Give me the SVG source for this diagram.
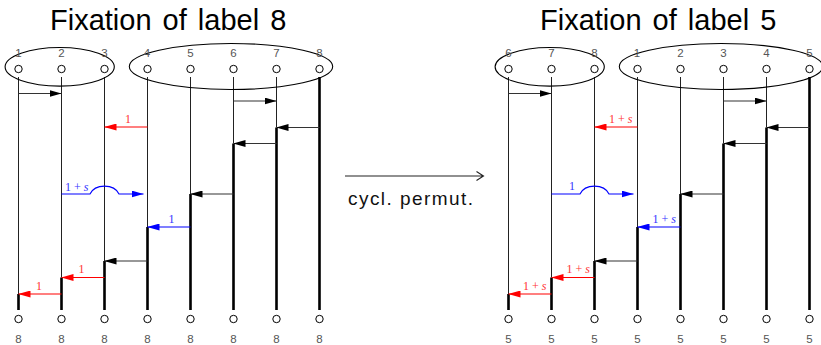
<svg xmlns="http://www.w3.org/2000/svg" width="821" height="345" viewBox="0 0 821 345">
<style>
.title{font-family:"Liberation Sans",Arial,sans-serif;font-size:29px;fill:#000;word-spacing:3px}
.idx{font-family:"Liberation Sans",Arial,sans-serif;font-size:11.5px;fill:#555;text-anchor:middle}
.grp{fill:none;stroke:#000;stroke-width:1.1}
.dot{fill:#fff;stroke:#000;stroke-width:1}
.thin{stroke:#222;stroke-width:1;fill:none}
.thick{stroke:#000;stroke-width:2.6;fill:none}
.ab{stroke:#333;stroke-width:1.1;fill:none;marker-end:url(#hk)}
.ar{stroke:#f00;stroke-width:1.1;fill:none;marker-end:url(#hr)}
.abl{stroke:#00f;stroke-width:1.1;fill:none;marker-end:url(#hb)}
.lr{font-family:"Liberation Serif","Times New Roman",serif;font-size:12px;fill:#f33}
.lb{font-family:"Liberation Serif","Times New Roman",serif;font-size:12px;fill:#33f}
.cap{font-family:"Liberation Sans",Arial,sans-serif;font-size:19px;fill:#111}
</style>
<defs>
<marker id="hk" markerUnits="userSpaceOnUse" viewBox="0 0 12 7" refX="12" refY="3.5" markerWidth="12" markerHeight="7" orient="auto"><path d="M0,0 L12,3.5 L0,7 Z" fill="#000"/></marker>
<marker id="hr" markerUnits="userSpaceOnUse" viewBox="0 0 12 7" refX="12" refY="3.5" markerWidth="12" markerHeight="7" orient="auto"><path d="M0,0 L12,3.5 L0,7 Z" fill="#f00"/></marker>
<marker id="hb" markerUnits="userSpaceOnUse" viewBox="0 0 12 7" refX="12" refY="3.5" markerWidth="12" markerHeight="7" orient="auto"><path d="M0,0 L12,3.5 L0,7 Z" fill="#00f"/></marker>
<g id="strands">
<path class="thin" d="M18.5,77 V294 M61.5,77 V277.5 M104.5,77 V261 M147.5,77 V227 M190.5,77 V194 M233.5,77 V143.5 M276.5,77 V127.5"/>
<path class="thick" d="M18.5,294 V310 M61.5,277.5 V310 M104.5,261 V310 M147.5,227 V310 M190.5,194 V310 M233.5,143.5 V310 M276.5,127.5 V310 M319.5,77 V310"/>
</g>
</defs>

<!-- LEFT PANEL -->
<g id="left-panel">
<text class="title" x="50" y="30">Fixation of label 8</text>
<use href="#strands"/>
<g id="L-group-a"><ellipse class="grp" cx="59.7" cy="66.8" rx="54.6" ry="19.3"/></g>
<g id="L-group-b"><ellipse class="grp" cx="231" cy="66.5" rx="101.7" ry="23"/></g>
<g id="L-top-labels">
<text class="idx" x="18.5" y="56.5">1</text><text class="idx" x="61.5" y="56.5">2</text><text class="idx" x="104.5" y="56.5">3</text><text class="idx" x="147" y="56.5">4</text>
<text class="idx" x="190.5" y="56.5">5</text><text class="idx" x="233.5" y="56.5">6</text><text class="idx" x="276.5" y="56.5">7</text><text class="idx" x="319.5" y="56.5">8</text>
</g>
<g id="L-top-dots">
<circle class="dot" cx="18.5" cy="69" r="3.7"/><circle class="dot" cx="61.5" cy="69" r="3.7"/><circle class="dot" cx="104.5" cy="69" r="3.7"/><circle class="dot" cx="147.5" cy="69" r="3.7"/>
<circle class="dot" cx="190.5" cy="69" r="3.7"/><circle class="dot" cx="233.5" cy="69" r="3.7"/><circle class="dot" cx="276.5" cy="69" r="3.7"/><circle class="dot" cx="319.5" cy="69" r="3.7"/>
</g>
<g id="L-bottom-dots">
<circle class="dot" cx="18.5" cy="319" r="3.7"/><circle class="dot" cx="61.5" cy="319" r="3.7"/><circle class="dot" cx="104.5" cy="319" r="3.7"/><circle class="dot" cx="147.5" cy="319" r="3.7"/>
<circle class="dot" cx="190.5" cy="319" r="3.7"/><circle class="dot" cx="233.5" cy="319" r="3.7"/><circle class="dot" cx="276.5" cy="319" r="3.7"/><circle class="dot" cx="319.5" cy="319" r="3.7"/>
</g>
<g id="L-bottom-labels">
<text class="idx" x="18.5" y="343">8</text><text class="idx" x="61.5" y="343">8</text><text class="idx" x="104.5" y="343">8</text><text class="idx" x="147.5" y="343">8</text>
<text class="idx" x="190.5" y="343">8</text><text class="idx" x="233.5" y="343">8</text><text class="idx" x="276.5" y="343">8</text><text class="idx" x="319.5" y="343">8</text>
</g>
<g id="L-connectors">
<path class="ab" d="M18.5,93.5 H61.5"/>
<path class="ab" d="M233.5,101 H276.5"/>
<path class="ab" d="M319.5,127.5 H276.5"/>
<path class="ar" d="M147.5,127 H104.5"/>
<path class="ab" d="M276.5,143.5 H233.5"/>
<path class="abl" d="M61.5,194 H90 C95,183.5 114,183.5 119,194 H143.5"/>
<path class="ab" d="M233.5,194 H190.5"/>
<path class="abl" d="M190.5,227 H147.5"/>
<path class="ab" d="M147.5,261 H104.5"/>
<path class="ar" d="M104.5,277.5 H61.5"/>
<path class="ar" d="M61.5,294 H18.5"/>
<text class="lr" x="125" y="122.5">1</text>
<text class="lb" x="65" y="190.5">1 + <tspan font-style="italic">s</tspan></text>
<text class="lb" x="168.5" y="222.5">1</text>
<text class="lr" x="78.5" y="272.5">1</text>
<text class="lr" x="36" y="289.5">1</text>
</g>
</g>

<!-- MIDDLE ARROW -->
<g id="cycl-permut">
<path d="M345,176 H483 M476.5,171.5 L483.5,176 L476.5,180.5" fill="none" stroke="#222" stroke-width="1.1"/>
<text class="cap" x="348" y="205" textLength="125" lengthAdjust="spacing">cycl.  permut.</text>
</g>

<!-- RIGHT PANEL -->
<g id="right-panel">
<text class="title" x="540" y="30">Fixation of label 5</text>
<use href="#strands" x="490"/>
<g id="R-group-a"><ellipse class="grp" cx="549.7" cy="66.8" rx="54.6" ry="19.3"/></g>
<g id="R-group-b"><ellipse class="grp" cx="721" cy="66.5" rx="101.7" ry="23"/></g>
<g id="R-top-labels">
<text class="idx" x="508.5" y="56.5">6</text><text class="idx" x="551.5" y="56.5">7</text><text class="idx" x="594.5" y="56.5">8</text><text class="idx" x="637" y="56.5">1</text>
<text class="idx" x="680.5" y="56.5">2</text><text class="idx" x="723.5" y="56.5">3</text><text class="idx" x="766.5" y="56.5">4</text><text class="idx" x="809.5" y="56.5">5</text>
</g>
<g id="R-top-dots">
<circle class="dot" cx="508.5" cy="69" r="3.7"/><circle class="dot" cx="551.5" cy="69" r="3.7"/><circle class="dot" cx="594.5" cy="69" r="3.7"/><circle class="dot" cx="637.5" cy="69" r="3.7"/>
<circle class="dot" cx="680.5" cy="69" r="3.7"/><circle class="dot" cx="723.5" cy="69" r="3.7"/><circle class="dot" cx="766.5" cy="69" r="3.7"/><circle class="dot" cx="809.5" cy="69" r="3.7"/>
</g>
<g id="R-bottom-dots">
<circle class="dot" cx="508.5" cy="319" r="3.7"/><circle class="dot" cx="551.5" cy="319" r="3.7"/><circle class="dot" cx="594.5" cy="319" r="3.7"/><circle class="dot" cx="637.5" cy="319" r="3.7"/>
<circle class="dot" cx="680.5" cy="319" r="3.7"/><circle class="dot" cx="723.5" cy="319" r="3.7"/><circle class="dot" cx="766.5" cy="319" r="3.7"/><circle class="dot" cx="809.5" cy="319" r="3.7"/>
</g>
<g id="R-bottom-labels">
<text class="idx" x="508.5" y="343">5</text><text class="idx" x="551.5" y="343">5</text><text class="idx" x="594.5" y="343">5</text><text class="idx" x="637.5" y="343">5</text>
<text class="idx" x="680.5" y="343">5</text><text class="idx" x="723.5" y="343">5</text><text class="idx" x="766.5" y="343">5</text><text class="idx" x="809.5" y="343">5</text>
</g>
<g id="R-connectors">
<path class="ab" d="M508.5,93.5 H551.5"/>
<path class="ab" d="M723.5,101 H766.5"/>
<path class="ab" d="M809.5,127.5 H766.5"/>
<path class="ar" d="M637.5,127 H594.5"/>
<path class="ab" d="M766.5,143.5 H723.5"/>
<path class="abl" d="M551.5,194 H580 C585,183.5 604,183.5 609,194 H633.5"/>
<path class="ab" d="M723.5,194 H680.5"/>
<path class="abl" d="M680.5,227 H637.5"/>
<path class="ab" d="M637.5,261 H594.5"/>
<path class="ar" d="M594.5,277.5 H551.5"/>
<path class="ar" d="M551.5,294 H508.5"/>
<text class="lr" x="609" y="123">1 + <tspan font-style="italic">s</tspan></text>
<text class="lb" x="569" y="190">1</text>
<text class="lb" x="652.5" y="222.5">1 + <tspan font-style="italic">s</tspan></text>
<text class="lr" x="566.5" y="272.5">1 + <tspan font-style="italic">s</tspan></text>
<text class="lr" x="523" y="290">1 + <tspan font-style="italic">s</tspan></text>
</g>
</g>
</svg>
